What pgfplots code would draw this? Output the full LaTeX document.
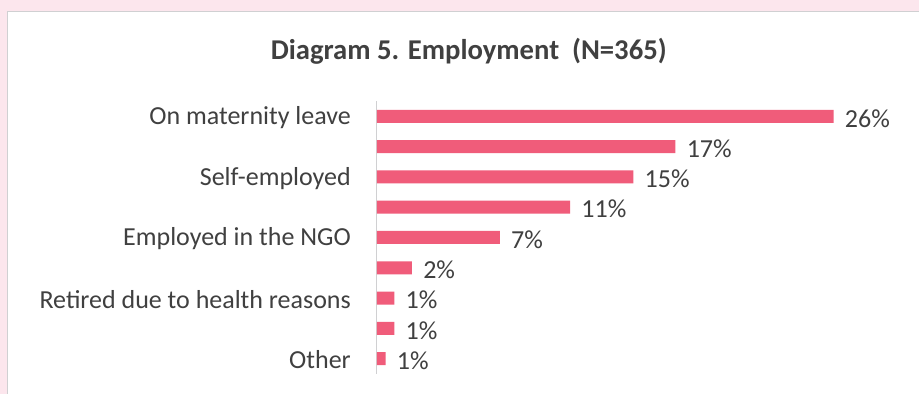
\documentclass[border=0pt]{standalone}
\usepackage{pgfplots}
\pgfplotsset{compat=1.18}
\usepackage{pgfplotstable}
\usepackage{fontspec}
\setmainfont{Carlito}
\definecolor{bgpink}{RGB}{252,230,237}
\definecolor{barpink}{RGB}{240,92,122}
\definecolor{txt}{RGB}{64,64,64}
\definecolor{panelborder}{RGB}{208,208,210}
\pgfplotstableread{
pos value label
0 26   26
1 17   17
2 14.6 15
3 11   11
4 7    7
5 2    2
6 1    1
7 1    1
8 0.5  1
}\datatable
\begin{document}
\begin{tikzpicture}
\fill[bgpink] (0pt,0pt) rectangle (689.25pt,295.5pt);
\fill[white] (6pt,0pt) rectangle (689.25pt,286.5pt);
\draw[panelborder, line width=0.75pt] (6pt,0pt) -- (6pt,286.5pt) -- (689.25pt,286.5pt);
\node[font=\bfseries\fontsize{21.5}{24}\selectfont, text=txt] at (351.75pt,257pt) {Diagram 5. Employment \ (N=365)};
\begin{axis}[
  at={(282.75pt,15pt)}, anchor=south west,
  scale only axis,
  width=342.75pt, height=204.6pt,
  xbar, bar width=9.75pt,
  xmin=0, xmax=26,
  ymin=-0.5, ymax=8.5,
  y dir=reverse,
  axis x line=none,
  axis y line*=left,
  y axis line style={draw=panelborder, line width=0.75pt, -},
  ytick={0,...,8},
  yticklabels={On maternity leave,,Self-employed,,Employed in the NGO,,Retired due to health reasons,,Other},
  major tick length=0pt,
  yticklabel shift=16pt,
  y tick label style={font=\fontsize{19.5}{22}\selectfont, text=txt, yshift=-1pt},
  point meta=explicit symbolic,
  nodes near coords={\pgfplotspointmeta\%},
  nodes near coords style={font=\fontsize{19.5}{22}\selectfont, text=txt, anchor=west, xshift=5pt, yshift=-1.5pt},
  clip=false,
]
\addplot[fill=barpink, draw=none] table[x=value, y=pos, meta=label] {\datatable};
\end{axis}
\end{tikzpicture}
\end{document}
